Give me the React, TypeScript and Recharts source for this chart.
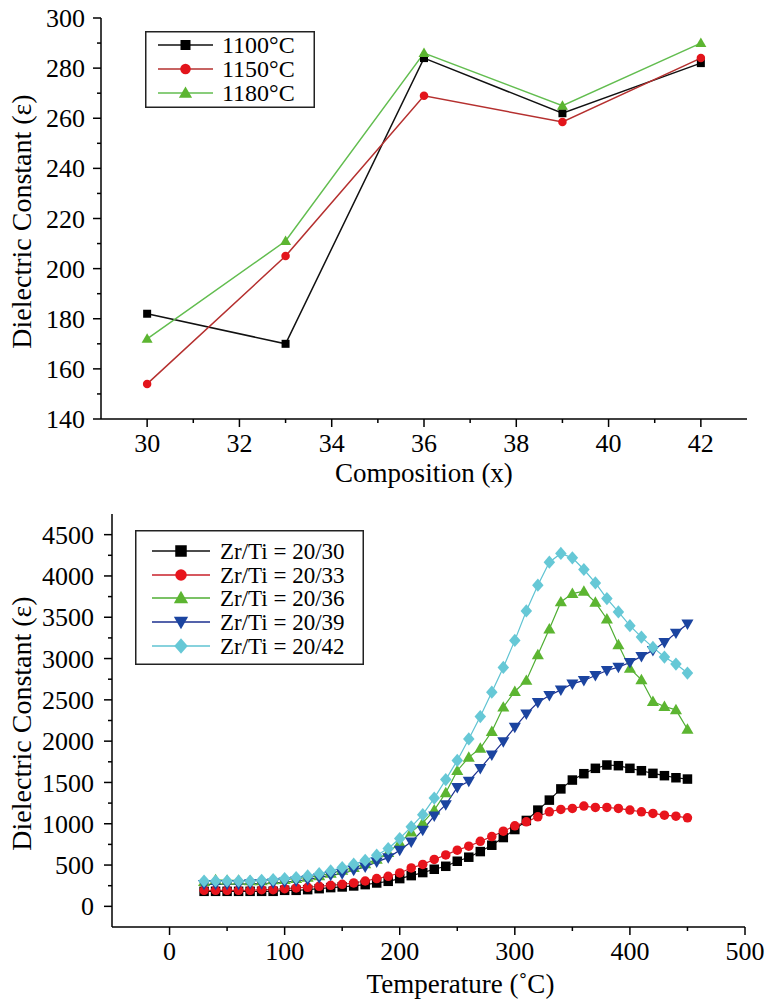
import React from 'react';
import { LineChart, Line, XAxis, YAxis, Legend } from 'recharts';

const FONT = '"Liberation Serif", "Times New Roman", serif';

// ---- top chart: dielectric constant vs composition ----
const compositions = [30, 33, 36, 39, 42];
const eps1100 = [182, 170, 284, 262, 282];
const eps1150 = [154, 205, 269, 258.5, 284];
const eps1180 = [172, 211, 286, 265, 290];
const sinterNames = ['1100°C', '1150°C', '1180°C'];
const compTicks = [30, 31, 32, 33, 34, 35, 36, 37, 38, 39, 40, 41, 42];
const epsTicksTop = [140, 150, 160, 170, 180, 190, 200, 210, 220, 230, 240, 250, 260, 270, 280, 290, 300];

// ---- bottom chart: dielectric constant vs temperature ----
const temps = [30, 40, 50, 60, 70, 80, 90, 100, 110, 120, 130, 140, 150, 160, 170, 180, 190, 200, 210, 220, 230, 240, 250, 260, 270, 280, 290, 300, 310, 320, 330, 340, 350, 360, 370, 380, 390, 400, 410, 420, 430, 440, 450];
const zt30 = [182, 182, 182, 182, 182, 182, 182, 194, 194, 202, 214, 227, 235, 247, 263, 283, 303, 336, 372, 409, 449, 485, 546, 595, 663, 740, 833, 930, 1040, 1165, 1286, 1422, 1529, 1606, 1671, 1711, 1703, 1671, 1642, 1610, 1582, 1557, 1541];
const zt33 = [194, 194, 194, 194, 194, 202, 202, 214, 223, 231, 243, 255, 267, 283, 307, 336, 364, 404, 465, 508, 568, 623, 680, 728, 787, 845, 910, 975, 1023, 1084, 1145, 1173, 1185, 1214, 1197, 1197, 1185, 1165, 1145, 1125, 1104, 1092, 1072];
const zt36 = [300, 320, 315, 315, 310, 310, 320, 325, 335, 350, 370, 400, 435, 470, 515, 570, 650, 770, 900, 1010, 1165, 1375, 1642, 1804, 1913, 2116, 2411, 2601, 2735, 3046, 3358, 3685, 3786, 3815, 3681, 3479, 3167, 2880, 2743, 2480, 2419, 2379, 2144];
const zt39 = [267, 267, 267, 267, 275, 275, 283, 295, 307, 324, 348, 376, 396, 437, 477, 538, 590, 680, 781, 922, 1095, 1232, 1440, 1515, 1671, 1833, 1994, 2168, 2330, 2468, 2553, 2621, 2694, 2735, 2795, 2856, 2896, 2953, 3026, 3099, 3196, 3309, 3418];
const zt42 = [307, 307, 307, 307, 307, 316, 324, 336, 348, 368, 396, 429, 469, 510, 558, 619, 700, 821, 963, 1110, 1311, 1535, 1766, 2027, 2298, 2593, 2892, 3220, 3576, 3888, 4167, 4272, 4219, 4078, 3916, 3726, 3564, 3398, 3260, 3135, 3018, 2933, 2824];
const zrTiNames = ['Zr/Ti = 20/30', 'Zr/Ti = 20/33', 'Zr/Ti = 20/36', 'Zr/Ti = 20/39', 'Zr/Ti = 20/42'];
const tempTicks = [0, 50, 100, 150, 200, 250, 300, 350, 400, 450, 500];
const epsTicksBottom = [0, 250, 500, 750, 1000, 1250, 1500, 1750, 2000, 2250, 2500, 2750, 3000, 3250, 3500, 3750, 4000, 4250, 4500];

const topData = compositions.map((x, i) => ({ x, a: eps1100[i], b: eps1150[i], c: eps1180[i] }));
const bottomData = temps.map((t, i) => ({ t, a: zt30[i], b: zt33[i], c: zt36[i], d: zt39[i], e: zt42[i] }));

type Shape = 'square' | 'circle' | 'up' | 'down' | 'diamond';

function Marker({ cx, cy, shape, color, size }: { cx: number; cy: number; shape: Shape; color: string; size: number }) {
  const s = size / 2;
  switch (shape) {
    case 'square':
      return <rect x={cx - s} y={cy - s} width={size} height={size} fill={color} />;
    case 'circle':
      return <circle cx={cx} cy={cy} r={s} fill={color} />;
    case 'up':
      return <polygon points={`${cx},${cy - s * 1.1} ${cx - s * 1.1},${cy + s * 0.8} ${cx + s * 1.1},${cy + s * 0.8}`} fill={color} />;
    case 'down':
      return <polygon points={`${cx},${cy + s * 1.1} ${cx - s * 1.1},${cy - s * 0.8} ${cx + s * 1.1},${cy - s * 0.8}`} fill={color} />;
    default:
      return <polygon points={`${cx},${cy - s * 1.15} ${cx + s},${cy} ${cx},${cy + s * 1.15} ${cx - s},${cy}`} fill={color} />;
  }
}

const dotFor = (shape: Shape, color: string, size: number) => (p: any) => {
  if (p.cx == null || p.cy == null) return <g key={p.index} />;
  return (
    <g key={p.index}>
      <Marker cx={p.cx} cy={p.cy} shape={shape} color={color} size={size} />
    </g>
  );
};

const yTick = (isMajor: (v: number) => boolean, gap: number, fontSize: number) => (p: any) => {
  const v = p.payload.value;
  const major = isMajor(v);
  return (
    <g>
      <line x1={p.x} x2={p.x - (major ? 8 : 4)} y1={p.y} y2={p.y} stroke="#000" strokeWidth={1.5} />
      {major && (
        <text x={p.x - gap} y={p.y} dy="0.35em" textAnchor="end" fontSize={fontSize} fontFamily={FONT} fill="#000">
          {v}
        </text>
      )}
    </g>
  );
};

const xTick = (isMajor: (v: number) => boolean, gap: number, fontSize: number) => (p: any) => {
  const v = p.payload.value;
  const major = isMajor(v);
  return (
    <g>
      <line x1={p.x} x2={p.x} y1={p.y} y2={p.y + (major ? 8 : 4)} stroke="#000" strokeWidth={1.5} />
      {major && (
        <text x={p.x} y={p.y + gap} dy="0.72em" textAnchor="middle" fontSize={fontSize} fontFamily={FONT} fill="#000">
          {v}
        </text>
      )}
    </g>
  );
};

const yTitle = (text: string) => (p: any) => {
  const vb = p.viewBox || {};
  const cx = 21;
  const cy = vb.y + vb.height / 2 + 3;
  return (
    <text x={cx} y={cy} transform={`rotate(-90 ${cx} ${cy})`} textAnchor="middle" dominantBaseline="central" fontSize={28} fontFamily={FONT} fill="#000">
      {text}
    </text>
  );
};

const xTitle = (text: string, dy: number, shift: number) => (p: any) => {
  const vb = p.viewBox || {};
  return (
    <text x={vb.x + vb.width / 2 + shift} y={vb.y + dy} textAnchor="middle" fontSize={27} fontFamily={FONT} fill="#000">
      {text}
    </text>
  );
};

type Entry = { name: string; line: string; color: string; shape: Shape; size: number };

function LegendBox({ entries, width, height, rows, x1, x2, textX, fontSize }: {
  entries: Entry[]; width: number; height: number; rows: number[]; x1: number; x2: number; textX: number; fontSize: number;
}) {
  return (
    <svg width={width} height={height} style={{ display: 'block' }}>
      <rect x={0.75} y={0.75} width={width - 1.5} height={height - 1.5} fill="#fff" stroke="#222" strokeWidth={1.5} />
      {entries.map((e, i) => (
        <g key={e.name}>
          <line x1={x1} x2={x2} y1={rows[i]} y2={rows[i]} stroke={e.line} strokeWidth={1.5} />
          <Marker cx={(x1 + x2) / 2} cy={rows[i]} shape={e.shape} color={e.color} size={e.size + 2} />
          <text x={textX} y={rows[i]} dy="0.35em" fontSize={fontSize} fontFamily={FONT} fill="#000">
            {e.name}
          </text>
        </g>
      ))}
    </svg>
  );
}

const topEntries: Entry[] = [
  { name: sinterNames[0], line: '#111', color: '#000', shape: 'square', size: 8 },
  { name: sinterNames[1], line: '#b5302f', color: '#e3141b', shape: 'circle', size: 8.5 },
  { name: sinterNames[2], line: '#62bd4f', color: '#5cb531', shape: 'up', size: 10 },
];

const bottomEntries: Entry[] = [
  { name: zrTiNames[0], line: '#111', color: '#000', shape: 'square', size: 9.5 },
  { name: zrTiNames[1], line: '#c8202a', color: '#e8141c', shape: 'circle', size: 9.5 },
  { name: zrTiNames[2], line: '#4fae33', color: '#5cb531', shape: 'up', size: 11 },
  { name: zrTiNames[3], line: '#1b2f8f', color: '#1b44a0', shape: 'down', size: 11 },
  { name: zrTiNames[4], line: '#5fc3d2', color: '#66c8d6', shape: 'diamond', size: 11.5 },
];

const frame = { stroke: '#000', strokeWidth: 1.5 };

export default function App() {
  const keysTop = ['a', 'b', 'c'];
  const keysBottom = ['a', 'b', 'c', 'd', 'e'];
  return (
    <div style={{ position: 'absolute', left: 0, top: 0, width: 766, height: 1002, background: '#fff' }}>
      <div style={{ position: 'absolute', left: 0, top: 0 }}>
        <LineChart width={766} height={500} data={topData} margin={{ top: 18, right: 19, bottom: 0, left: 0 }}>
          <XAxis
            dataKey="x"
            type="number"
            domain={[29, 43]}
            ticks={compTicks}
            interval={0}
            tickSize={0}
            tickMargin={0}
            height={81}
            axisLine={frame}
            tickLine={false}
            tick={xTick((v) => v % 2 === 0, 14, 26)}
            label={xTitle('Composition (x)', 63, 0)}
          />
          <XAxis xAxisId="top" orientation="top" type="number" domain={[29, 43]} height={0} tick={false} tickLine={false} axisLine={frame} />
          <YAxis
            type="number"
            domain={[140, 300]}
            ticks={epsTicksTop}
            interval={0}
            tickSize={0}
            tickMargin={0}
            width={101}
            axisLine={frame}
            tickLine={false}
            tick={yTick((v) => v % 20 === 0, 16, 26)}
            label={yTitle('Dielectric Constant (ε)')}
          />
          <YAxis yAxisId="right" orientation="right" type="number" domain={[140, 300]} width={0} tick={false} tickLine={false} axisLine={frame} />
          {topEntries.map((e, i) => (
            <Line
              key={keysTop[i]}
              dataKey={keysTop[i]}
              name={e.name}
              type="linear"
              stroke={e.line}
              strokeWidth={1.5}
              dot={dotFor(e.shape, e.color, e.size)}
              activeDot={false}
              isAnimationActive={false}
            />
          ))}
          <Legend
            layout="vertical"
            align="center"
            verticalAlign="middle"
            wrapperStyle={{ left: 145, top: 31, width: 170, height: 77 }}
            content={() => (
              <LegendBox entries={topEntries} width={170} height={77} rows={[14, 38, 62]} x1={13} x2={68} textX={77} fontSize={24} />
            )}
          />
        </LineChart>
      </div>
      <div style={{ position: 'absolute', left: 0, top: 490 }}>
        <LineChart width={766} height={512} data={bottomData} margin={{ top: 24, right: 21, bottom: 0, left: 0 }}>
          <XAxis
            dataKey="t"
            type="number"
            domain={[-50, 500]}
            ticks={tempTicks}
            interval={0}
            tickSize={0}
            tickMargin={0}
            height={75}
            axisLine={frame}
            tickLine={false}
            tick={xTick((v) => v % 100 === 0, 14, 26)}
            label={xTitle('Temperature (˚C)', 66, 32)}
          />
          <XAxis xAxisId="top" orientation="top" type="number" domain={[-50, 500]} height={0} tick={false} tickLine={false} axisLine={frame} />
          <YAxis
            type="number"
            domain={[-250, 4750]}
            ticks={epsTicksBottom}
            interval={0}
            tickSize={0}
            tickMargin={0}
            width={112}
            axisLine={frame}
            tickLine={false}
            tick={yTick((v) => v % 500 === 0, 18, 26)}
            label={yTitle('Dielectric Constant (ε)')}
          />
          <YAxis yAxisId="right" orientation="right" type="number" domain={[-250, 4750]} width={0} tick={false} tickLine={false} axisLine={frame} />
          {bottomEntries.map((e, i) => (
            <Line
              key={keysBottom[i]}
              dataKey={keysBottom[i]}
              name={e.name}
              type="linear"
              stroke={e.line}
              strokeWidth={1.2}
              dot={dotFor(e.shape, e.color, e.size)}
              activeDot={false}
              isAnimationActive={false}
            />
          ))}
          <Legend
            layout="vertical"
            align="center"
            verticalAlign="middle"
            wrapperStyle={{ left: 135, top: 40, width: 229, height: 135 }}
            content={() => (
              <LegendBox entries={bottomEntries} width={229} height={135} rows={[21, 45, 68, 92, 116]} x1={17} x2={75} textX={85} fontSize={23} />
            )}
          />
        </LineChart>
      </div>
    </div>
  );
}
